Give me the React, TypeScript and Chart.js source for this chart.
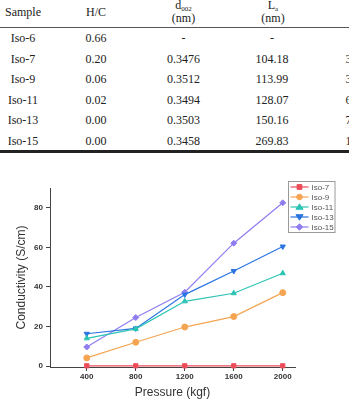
import React, { useEffect, useRef } from "react";
import { Chart, registerables } from "chart.js";

Chart.register(...registerables);

// ---- Table data ----
const SAMPLES = ["Iso-6", "Iso-7", "Iso-9", "Iso-11", "Iso-13", "Iso-15"];
const HC = ["0.66", "0.20", "0.06", "0.02", "0.00", "0.00"];
const D002 = ["-", "0.3476", "0.3512", "0.3494", "0.3503", "0.3458"];
const LA = ["-", "104.18", "113.99", "128.07", "150.16", "269.83"];
const NEXT_COL = ["", "3", "3", "6", "7", "1"];

// ---- Chart data ----
const PRESSURE = [400, 800, 1200, 1600, 2000];
const X_TICKS = [400, 800, 1200, 1600, 2000];
const Y_TICKS = [0, 20, 40, 60, 80];
const ISO7 = [0.1, 0.1, 0.1, 0.1, 0.1];
const ISO9 = [4.1, 12.0, 19.7, 25.0, 37.1];
const ISO11 = [14.0, 18.8, 32.7, 36.8, 46.9];
const ISO13 = [16.3, 19.0, 36.1, 48.0, 60.4];
const ISO15 = [9.6, 24.5, 37.3, 62.1, 82.5];

const SERIES = [
  { label: "Iso-7", values: ISO7, color: "#ec4c5a", style: "rect", rot: 0 },
  { label: "Iso-9", values: ISO9, color: "#f5a552", style: "circle", rot: 0 },
  { label: "Iso-11", values: ISO11, color: "#2cc4b4", style: "triangle", rot: 0 },
  { label: "Iso-13", values: ISO13, color: "#2a74e2", style: "triangle", rot: 180 },
  { label: "Iso-15", values: ISO15, color: "#8f7df0", style: "rectRot", rot: 0 },
];

const SANS = "'Liberation Sans', Arial, sans-serif";
const SERIF = "'Liberation Serif', 'Times New Roman', serif";

function drawMarker(ctx: CanvasRenderingContext2D, style: string, rot: number, x: number, y: number, r: number) {
  ctx.save();
  ctx.translate(x, y);
  ctx.rotate((rot * Math.PI) / 180);
  ctx.beginPath();
  if (style === "circle") {
    ctx.arc(0, 0, r, 0, Math.PI * 2);
  } else if (style === "rect") {
    ctx.rect(-r * 0.85, -r * 0.85, r * 1.7, r * 1.7);
  } else if (style === "rectRot") {
    ctx.moveTo(0, -r * 1.15);
    ctx.lineTo(r * 1.15, 0);
    ctx.lineTo(0, r * 1.15);
    ctx.lineTo(-r * 1.15, 0);
    ctx.closePath();
  } else {
    const h = r * 1.5;
    ctx.moveTo(0, -h * 0.75);
    ctx.lineTo(h * 0.85, h * 0.55);
    ctx.lineTo(-h * 0.85, h * 0.55);
    ctx.closePath();
  }
  ctx.fill();
  ctx.stroke();
  ctx.restore();
}

// Boxed legend in the upper right: line sample with marker, then the label
const boxLegend = {
  id: "boxLegend",
  afterDraw(chart: any) {
    const ctx = chart.ctx;
    const x0 = 288.5;
    const y0 = 11.5;
    const w = 46.5;
    const rowH = 10;
    const sets = chart.data.datasets;
    ctx.save();
    ctx.fillStyle = "#ffffff";
    ctx.fillRect(x0, y0, w, rowH * sets.length + 1);
    ctx.strokeStyle = "#9a9a9a";
    ctx.lineWidth = 1;
    ctx.strokeRect(x0, y0, w, rowH * sets.length + 1);
    sets.forEach((ds: any, i: number) => {
      const cy = y0 + 5.5 + i * rowH;
      ctx.strokeStyle = ds.borderColor;
      ctx.lineWidth = 1.2;
      ctx.beginPath();
      ctx.moveTo(x0 + 2, cy);
      ctx.lineTo(x0 + 20, cy);
      ctx.stroke();
      ctx.fillStyle = ds.backgroundColor;
      ctx.strokeStyle = ds.borderColor;
      ctx.lineWidth = 1;
      drawMarker(ctx, ds.pointStyle, ds.pointRotation || 0, x0 + 11, cy, 2.8);
      ctx.fillStyle = "#555555";
      ctx.font = `8px ${SANS}`;
      ctx.textBaseline = "middle";
      ctx.textAlign = "left";
      ctx.fillText(ds.label, x0 + 23, cy + 0.5);
    });
    ctx.restore();
  },
};

function ConductivityChart() {
  const ref = useRef<HTMLCanvasElement | null>(null);
  useEffect(() => {
    if (!ref.current) return;
    const chart = new Chart(ref.current, {
      type: "line",
      data: {
        datasets: SERIES.map((s) => ({
          label: s.label,
          data: PRESSURE.map((p, i) => ({ x: p, y: s.values[i] })),
          borderColor: s.color,
          backgroundColor: s.color,
          pointStyle: s.style as any,
          pointRotation: s.rot,
          pointRadius: 3,
          pointBorderWidth: 1,
          borderWidth: 1.2,
          clip: false as any,
        })),
      },
      options: {
        animation: false,
        responsive: false,
        layout: { padding: { top: 18, right: 54, left: 0, bottom: 0 } },
        plugins: { legend: { display: false }, tooltip: { enabled: false } },
        scales: {
          x: {
            type: "linear",
            min: 100,
            max: 2100,
            afterBuildTicks: (s: any) => {
              s.ticks = X_TICKS.map((v) => ({ value: v }));
            },
            afterFit: (s: any) => {
              s.height = 34;
            },
            grid: { drawOnChartArea: false, tickLength: 4, color: "#444" },
            border: { color: "#444", width: 1 },
            ticks: {
              color: "#333",
              padding: 1,
              maxRotation: 0,
              font: { family: SANS, size: 8, weight: "bold" },
              callback: (v: any) => String(v),
            },
            title: {
              display: true,
              text: "Pressure (kgf)",
              color: "#333",
              font: { family: SANS, size: 12 },
              padding: { top: 0, bottom: 1 },
            },
          },
          y: {
            type: "linear",
            min: -0.5,
            max: 90,
            afterBuildTicks: (s: any) => {
              s.ticks = Y_TICKS.map((v) => ({ value: v }));
            },
            afterFit: (s: any) => {
              s.width = 50;
            },
            grid: { drawOnChartArea: false, tickLength: 4, color: "#444" },
            border: { color: "#444", width: 1 },
            ticks: {
              color: "#333",
              padding: 3,
              font: { family: SANS, size: 8, weight: "bold" },
              callback: (v: any) => String(v),
            },
            title: {
              display: true,
              text: "Conductivity (S/cm)",
              color: "#333",
              font: { family: SANS, size: 12 },
              padding: { top: 14.5, bottom: 0 },
            },
          },
        },
      },
      plugins: [boxLegend],
    });
    return () => chart.destroy();
  }, []);
  return (
    <canvas
      ref={ref}
      width={349}
      height={231}
      style={{ position: "absolute", left: 0, top: 170, width: 349, height: 231 }}
    />
  );
}

const ROW_Y = [37.7, 58.6, 79.2, 99.6, 120.1, 140.7];
const COL_X = [23, 96, 183.5, 272];

function Cell({ x, y, children, align = "center" }: any) {
  const style: React.CSSProperties =
    align === "left"
      ? { position: "absolute", left: x, top: y - 8, lineHeight: "16px", whiteSpace: "nowrap" }
      : {
          position: "absolute",
          left: x - 50,
          width: 100,
          top: y - 8,
          lineHeight: "16px",
          textAlign: "center",
          whiteSpace: "nowrap",
        };
  return <div style={style}>{children}</div>;
}

function PropertyTable() {
  return (
    <div
      style={{
        position: "absolute",
        left: 0,
        top: 0,
        width: 349,
        height: 160,
        overflow: "hidden",
        fontFamily: SERIF,
        fontSize: 12,
        color: "#222",
      }}
    >
      <Cell x={COL_X[0]} y={11.7}>Sample</Cell>
      <Cell x={COL_X[1]} y={11.7}>H/C</Cell>
      <Cell x={COL_X[2]} y={5}>
        d<sub style={{ fontSize: 7, verticalAlign: "-2px" }}>002</sub>
      </Cell>
      <Cell x={COL_X[2]} y={17.5}>(nm)</Cell>
      <Cell x={COL_X[3] + 1} y={5}>
        L<sub style={{ fontSize: 7, verticalAlign: "-2px" }}>a</sub>
      </Cell>
      <Cell x={COL_X[3] + 1} y={17.5}>(nm)</Cell>
      <div style={{ position: "absolute", left: 0, top: 26.7, width: 349, height: 1.3, background: "#555" }} />
      {SAMPLES.map((s, i) => (
        <React.Fragment key={s}>
          <Cell x={COL_X[0]} y={ROW_Y[i]}>{s}</Cell>
          <Cell x={COL_X[1]} y={ROW_Y[i]}>{HC[i]}</Cell>
          <Cell x={COL_X[2]} y={ROW_Y[i]}>{D002[i]}</Cell>
          <Cell x={COL_X[3]} y={ROW_Y[i]}>{LA[i]}</Cell>
          <Cell x={345.5} y={ROW_Y[i]} align="left">{NEXT_COL[i]}</Cell>
        </React.Fragment>
      ))}
      <div style={{ position: "absolute", left: 0, top: 150, width: 349, height: 2.5, background: "#222" }} />
    </div>
  );
}

export default function App() {
  return (
    <div
      style={{
        position: "absolute",
        left: 0,
        top: 0,
        width: 349,
        height: 401,
        overflow: "hidden",
        background: "#fff",
      }}
    >
      <PropertyTable />
      <ConductivityChart />
    </div>
  );
}
